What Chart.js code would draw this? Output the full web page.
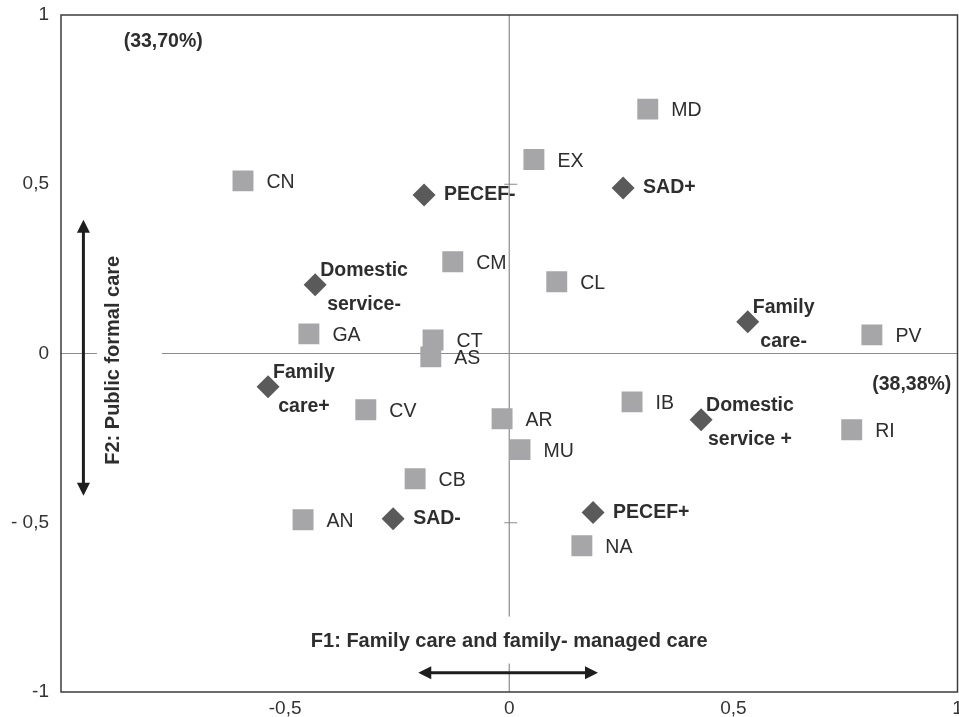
<!DOCTYPE html>
<html>
<head>
<meta charset="utf-8">
<script src="https://cdn.jsdelivr.net/npm/chart.js@4.4.1/dist/chart.umd.min.js"></script>
<style>
  html, body { margin: 0; padding: 0; background: #fff; overflow: hidden; }
  #wrap { position: relative; width: 959px; height: 717px; }
  canvas { display: block; }
</style>
</head>
<body>
<div id="wrap"><canvas id="biplot"></canvas></div>
<script>
// regions (grey squares)
const regionNames = ['MD', 'EX', 'CN', 'CM', 'CL', 'GA', 'CT', 'AS', 'CV', 'AR', 'MU', 'CB', 'IB', 'PV', 'RI', 'AN', 'NA'];
const regionF1 = [0.309, 0.055, -0.594, -0.126, 0.106, -0.447, -0.170, -0.175, -0.320, -0.016, 0.024, -0.210, 0.274, 0.809, 0.764, -0.460, 0.162];
const regionF2 = [0.722, 0.573, 0.510, 0.271, 0.212, 0.058, 0.040, -0.010, -0.166, -0.193, -0.284, -0.370, -0.143, 0.055, -0.225, -0.491, -0.568];

// care modalities (dark diamonds), one entry per text line
const modalityNames = [['PECEF-'], ['SAD+'], ['Domestic', 'service-'], ['Family', 'care+'], ['Family', 'care-'], ['Domestic', 'service +'], ['SAD-'], ['PECEF+']];
const modalityF1 = [-0.190, 0.254, -0.433, -0.538, 0.532, 0.428, -0.259, 0.187];
const modalityF2 = [0.468, 0.489, 0.203, -0.098, 0.094, -0.196, -0.488, -0.470];

const tickValues = [-1, -0.5, 0, 0.5, 1];
const xTickLabels = ['', '-0,5', '0', '0,5', '1'];
const yTickLabels = ['-1', '- 0,5', '0', '0,5', '1'];

const f1Title = 'F1: Family care and family- managed care';
const f2Title = 'F2: Public formal care';
const f1Share = '(38,38%)';
const f2Share = '(33,70%)';

const FONT = '"Liberation Sans", Arial, Helvetica, sans-serif';
const TEXT = '#2e2e2e';

function arrowHead(ctx, x, y, dx, dy) {
    // dx,dy: unit direction of the tip
    const len = 13, half = 6.5;
    ctx.beginPath();
    ctx.moveTo(x, y);
    ctx.lineTo(x - dx * len - dy * half, y - dy * len + dx * half);
    ctx.lineTo(x - dx * len + dy * half, y - dy * len - dx * half);
    ctx.closePath();
    ctx.fill();
}

const decorations = {
    id: 'decorations',
    beforeDatasetsDraw(chart) {
        const ctx = chart.ctx;
        const a = chart.chartArea;
        const sx = chart.scales.x, sy = chart.scales.y;
        const x0 = sx.getPixelForValue(0), y0 = sy.getPixelForValue(0);
        ctx.save();

        // axes through the origin
        ctx.strokeStyle = '#8c8c8c';
        ctx.lineWidth = 1.2;
        ctx.beginPath();
        ctx.moveTo(x0, a.top); ctx.lineTo(x0, a.bottom);
        ctx.moveTo(a.left, y0); ctx.lineTo(a.right, y0);
        [0.5, -0.5].forEach(v => {
            const py = sy.getPixelForValue(v);
            ctx.moveTo(x0 - 5, py); ctx.lineTo(x0 + 8, py);
        });
        ctx.stroke();

        // F1 title
        ctx.font = 'bold 20px ' + FONT;
        ctx.textAlign = 'center';
        ctx.textBaseline = 'middle';
        const ty = sy.getPixelForValue(-0.851);
        const tw = ctx.measureText(f1Title).width;
        ctx.fillStyle = '#fff';
        ctx.fillRect(x0 - tw / 2 - 4, ty - 25, tw + 8, 47);
        ctx.fillStyle = TEXT;
        ctx.fillText(f1Title, x0, ty);

        // F2 title (rotated)
        const vx = sx.getPixelForValue(-0.882), vy = sy.getPixelForValue(-0.02);
        ctx.fillStyle = '#fff';
        ctx.fillRect(vx - 17, vy - 115, 65, 230);
        ctx.save();
        ctx.translate(vx, vy);
        ctx.rotate(-Math.PI / 2);
        ctx.fillStyle = TEXT;
        ctx.fillText(f2Title, 0, 0);
        ctx.restore();

        // double arrows
        ctx.strokeStyle = '#1e1e1e';
        ctx.fillStyle = '#1e1e1e';
        ctx.lineWidth = 3;
        const ay = sy.getPixelForValue(-0.943);
        const ax1 = sx.getPixelForValue(-0.203), ax2 = sx.getPixelForValue(0.198);
        ctx.beginPath();
        ctx.moveTo(ax1 + 8, ay); ctx.lineTo(ax2 - 8, ay);
        ctx.stroke();
        arrowHead(ctx, ax1, ay, -1, 0);
        arrowHead(ctx, ax2, ay, 1, 0);

        const bx = sx.getPixelForValue(-0.950);
        const by1 = sy.getPixelForValue(0.395), by2 = sy.getPixelForValue(-0.420);
        ctx.beginPath();
        ctx.moveTo(bx, by1 + 8); ctx.lineTo(bx, by2 - 8);
        ctx.stroke();
        arrowHead(ctx, bx, by1, 0, -1);
        arrowHead(ctx, bx, by2, 0, 1);

        // explained variance
        ctx.fillStyle = TEXT;
        ctx.font = 'bold 19.5px ' + FONT;
        ctx.fillText(f2Share, sx.getPixelForValue(-0.772), sy.getPixelForValue(0.92));
        ctx.fillText(f1Share, sx.getPixelForValue(0.898), sy.getPixelForValue(-0.092));
        ctx.restore();
    },
    afterDatasetsDraw(chart) {
        const ctx = chart.ctx;
        ctx.save();
        ctx.fillStyle = TEXT;
        ctx.textBaseline = 'middle';
        ctx.textAlign = 'left';

        ctx.font = '19.5px ' + FONT;
        chart.getDatasetMeta(0).data.forEach((pt, i) => {
            ctx.fillText(regionNames[i], pt.x + 23.5, pt.y + 2);
        });

        ctx.font = 'bold 19.5px ' + FONT;
        chart.getDatasetMeta(1).data.forEach((pt, i) => {
            const lines = modalityNames[i];
            if (lines.length === 1) {
                ctx.textAlign = 'left';
                ctx.fillText(lines[0], pt.x + 20, pt.y);
            } else {
                const w = Math.max(...lines.map(l => ctx.measureText(l).width));
                const cx = pt.x + 5 + w / 2;
                ctx.textAlign = 'center';
                lines.forEach((l, k) => {
                    ctx.fillText(l, cx, pt.y + 3 + (k - (lines.length - 1) / 2) * 34);
                });
            }
        });

        // frame
        const a = chart.chartArea;
        ctx.strokeStyle = '#3c3c3c';
        ctx.lineWidth = 1.5;
        ctx.strokeRect(a.left, a.top, a.right - a.left, a.bottom - a.top);
        ctx.restore();
    }
};

const ctx = document.getElementById('biplot').getContext('2d');

const biplot = new Chart(ctx, {
    type: 'scatter',
    data: {
        datasets: [
            {
                label: 'Regions',
                data: regionNames.map((n, i) => ({ x: regionF1[i], y: regionF2[i] })),
                pointStyle: 'rect',
                pointRadius: 14.8,
                pointHoverRadius: 14.8,
                backgroundColor: '#a6a6a8',
                borderWidth: 0
            },
            {
                label: 'Modalities',
                data: modalityNames.map((n, i) => ({ x: modalityF1[i], y: modalityF2[i] })),
                pointStyle: 'rectRot',
                pointRadius: 11.5,
                pointHoverRadius: 11.5,
                backgroundColor: '#5a5a5a',
                borderWidth: 0
            }
        ]
    },
    options: {
        responsive: true,
        maintainAspectRatio: false,
        animation: false,
        events: [],
        layout: { autoPadding: false, padding: { top: 15, right: 1.5, left: 0, bottom: 0 } },
        plugins: {
            legend: { display: false },
            tooltip: { enabled: false }
        },
        scales: {
            x: {
                type: 'linear',
                min: -1,
                max: 1,
                grid: { display: false, drawTicks: false },
                border: { display: false },
                ticks: {
                    stepSize: 0.5,
                    padding: 5,
                    color: '#333',
                    font: { family: FONT, size: 19 },
                    maxRotation: 0,
                    callback: v => xTickLabels[tickValues.indexOf(v)]
                },
                afterFit: s => { s.height = 25; s.paddingLeft = 0; s.paddingRight = 0; }
            },
            y: {
                type: 'linear',
                min: -1,
                max: 1,
                grid: { display: false, drawTicks: false },
                border: { display: false },
                ticks: {
                    stepSize: 0.5,
                    padding: 12,
                    color: '#333',
                    font: { family: FONT, size: 19 },
                    callback: v => yTickLabels[tickValues.indexOf(v)]
                },
                afterFit: s => { s.width = 61; s.paddingTop = 0; s.paddingBottom = 0; }
            }
        }
    },
    plugins: [decorations]
});
</script>
</body>
</html>
